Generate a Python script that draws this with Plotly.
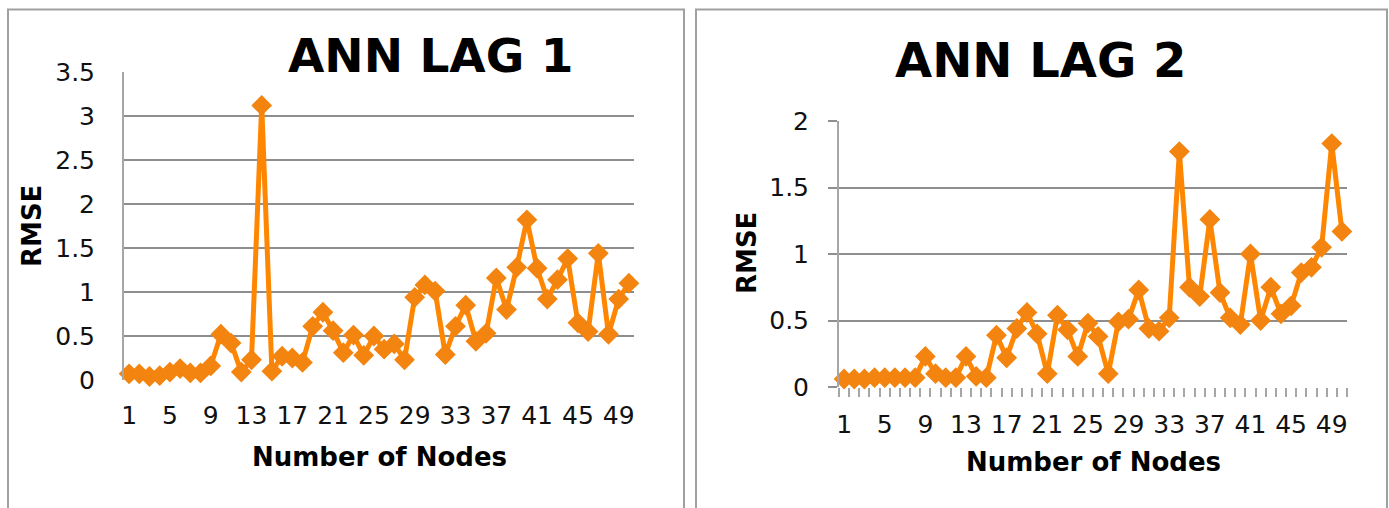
import plotly.graph_objects as go

W, H = 1389, 508

nodes = list(range(1, 51))
tick_vals = list(range(1, 50, 4))
tick_text = [str(v) for v in tick_vals]

lag1_rmse = [0.07, 0.07, 0.04, 0.05, 0.09, 0.13, 0.08, 0.08, 0.16, 0.52,
             0.42, 0.09, 0.23, 3.12, 0.10, 0.27, 0.25, 0.20, 0.61, 0.77,
             0.56, 0.31, 0.51, 0.28, 0.50, 0.35, 0.41, 0.23, 0.94, 1.08,
             1.01, 0.29, 0.61, 0.85, 0.44, 0.53, 1.16, 0.80, 1.28, 1.82,
             1.27, 0.92, 1.14, 1.38, 0.65, 0.55, 1.44, 0.52, 0.92, 1.10]

lag2_rmse = [0.06, 0.06, 0.06, 0.07, 0.07, 0.07, 0.07, 0.07, 0.23, 0.10,
             0.07, 0.07, 0.23, 0.08, 0.07, 0.39, 0.22, 0.44, 0.56, 0.40,
             0.10, 0.54, 0.43, 0.23, 0.48, 0.38, 0.10, 0.49, 0.51, 0.73,
             0.44, 0.42, 0.52, 1.77, 0.75, 0.68, 1.26, 0.71, 0.52, 0.47,
             1.00, 0.50, 0.75, 0.55, 0.61, 0.86, 0.90, 1.05, 1.83, 1.17]

titles = ["ANN LAG 1", "ANN LAG 2"]
x_title = "Number of Nodes"
y_title = "RMSE"


def px(x):
    return x / W


def py(y):
    return 1 - y / H


LINE_C = "#FF8600"
MARK_C = "#F2840F"
GRID_C = "#8E8E8E"
AXIS_C = "#A6A6A6"
FONT = "DejaVu Sans"

fig = go.Figure()

for vals, xa, ya in [(lag1_rmse, "x", "y"), (lag2_rmse, "x2", "y2")]:
    fig.add_trace(go.Scatter(
        x=nodes, y=vals, xaxis=xa, yaxis=ya, mode="lines+markers",
        line=dict(color=LINE_C, width=5),
        marker=dict(symbol="diamond", size=16, color=MARK_C, line=dict(width=0)),
        showlegend=False, cliponaxis=False,
    ))

tickfont = dict(family=FONT, size=25, color="#111111")

fig.update_layout(
    template="none",
    width=W, height=H, margin=dict(l=0, r=0, t=0, b=0, pad=0), autosize=False,
    paper_bgcolor="white", plot_bgcolor="white",
    xaxis=dict(domain=[px(124), px(634)], range=[0.5, 50.5], tickmode="array",
               tickvals=tick_vals, ticktext=tick_text, showgrid=False, zeroline=False,
               showline=False, ticks="", tickfont=tickfont, ticklabelstandoff=18,
               anchor="y", automargin=False),
    yaxis=dict(domain=[py(380), py(72)], range=[0, 3.5], dtick=0.5,
               showgrid=True, gridcolor=GRID_C, gridwidth=2, zeroline=False,
               showline=True, linecolor=AXIS_C, linewidth=2, ticks="",
               tickfont=tickfont, ticklabelstandoff=22, anchor="x", automargin=False),
    xaxis2=dict(domain=[px(839), px(1347)], range=[0.5, 50.5], tickmode="array",
                tickvals=tick_vals, ticktext=tick_text, showgrid=False, zeroline=False,
                showline=False, ticks="", tickfont=tickfont, ticklabelstandoff=20,
                minor=dict(tickmode="array", tickvals=[k + 0.5 for k in range(0, 51)],
                           ticks="outside", ticklen=9, tickcolor=AXIS_C, tickwidth=2,
                           showgrid=False),
                anchor="y2", automargin=False),
    yaxis2=dict(domain=[py(387), py(121)], range=[0, 2], dtick=0.5,
                showgrid=True, gridcolor=GRID_C, gridwidth=2, zeroline=False,
                showline=True, linecolor=AXIS_C, linewidth=2, ticks="outside",
                ticklen=9, tickcolor=GRID_C, tickwidth=2,
                tickfont=tickfont, ticklabelstandoff=14, anchor="x2", automargin=False),
)

# panel borders
for x0, x1 in [(8, 684), (696, 1387)]:
    fig.add_shape(type="rect", xref="paper", yref="paper",
                  x0=px(x0), x1=px(x1), y0=py(540), y1=py(9.5),
                  line=dict(color="#A0A0A0", width=2), fillcolor="rgba(0,0,0,0)",
                  layer="below")

ann = []
ann.append(dict(text=f"<b>{titles[0]}</b>", x=px(430), y=py(55), font=dict(family=FONT, size=47, color="black")))
ann.append(dict(text=f"<b>{titles[1]}</b>", x=px(1040), y=py(60), font=dict(family=FONT, size=48, color="black")))
ann.append(dict(text=f"<b>{x_title}</b>", x=px(379), y=py(457), font=dict(family=FONT, size=26, color="black")))
ann.append(dict(text=f"<b>{x_title}</b>", x=px(1093), y=py(462), font=dict(family=FONT, size=26, color="black")))
ann.append(dict(text=f"<b>{y_title}</b>", x=px(32), y=py(226), textangle=-90, font=dict(family=FONT, size=26, color="black")))
ann.append(dict(text=f"<b>{y_title}</b>", x=px(747), y=py(253), textangle=-90, font=dict(family=FONT, size=26, color="black")))
for a in ann:
    a.update(xref="paper", yref="paper", showarrow=False, xanchor="center", yanchor="middle")
fig.update_layout(annotations=ann)

fig.write_html("out.html", config={"displayModeBar": False},
               post_script="document.body.style.margin='0';document.body.style.overflow='hidden';")
